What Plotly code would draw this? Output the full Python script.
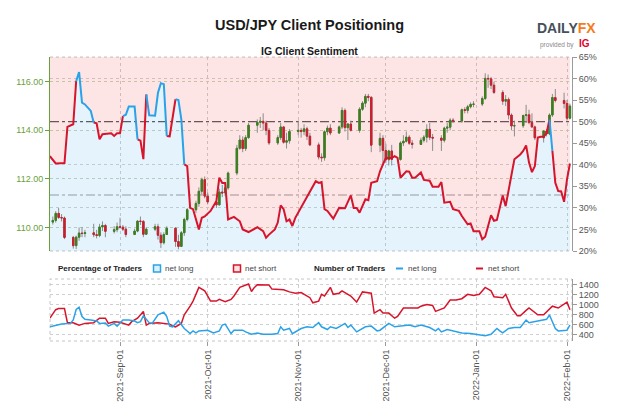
import plotly.graph_objects as go

# ---------------- data ----------------
CANDLE_DATES = [
    "2021-08-09", "2021-08-10", "2021-08-11", "2021-08-12", "2021-08-13", "2021-08-16", "2021-08-17", "2021-08-18",
    "2021-08-19", "2021-08-20", "2021-08-23", "2021-08-24", "2021-08-25", "2021-08-26", "2021-08-27", "2021-08-30",
    "2021-08-31",
    "2021-09-01", "2021-09-02", "2021-09-03", "2021-09-06", "2021-09-07", "2021-09-08", "2021-09-09", "2021-09-10",
    "2021-09-13", "2021-09-14", "2021-09-15", "2021-09-16", "2021-09-17", "2021-09-20", "2021-09-21", "2021-09-22",
    "2021-09-23", "2021-09-24", "2021-09-27", "2021-09-28", "2021-09-29", "2021-09-30",
    "2021-10-01", "2021-10-04", "2021-10-05", "2021-10-06", "2021-10-07", "2021-10-08", "2021-10-11", "2021-10-12",
    "2021-10-13", "2021-10-14", "2021-10-15", "2021-10-18", "2021-10-19", "2021-10-20", "2021-10-21", "2021-10-22",
    "2021-10-25", "2021-10-26", "2021-10-27", "2021-10-28", "2021-10-29",
    "2021-11-01", "2021-11-02", "2021-11-03", "2021-11-04", "2021-11-05", "2021-11-08", "2021-11-09", "2021-11-10",
    "2021-11-11", "2021-11-12", "2021-11-15", "2021-11-16", "2021-11-17", "2021-11-18", "2021-11-19", "2021-11-22",
    "2021-11-23", "2021-11-24", "2021-11-25", "2021-11-26", "2021-11-29", "2021-11-30",
    "2021-12-01", "2021-12-02", "2021-12-03", "2021-12-06", "2021-12-07", "2021-12-08", "2021-12-09", "2021-12-10",
    "2021-12-13", "2021-12-14", "2021-12-15", "2021-12-16", "2021-12-17", "2021-12-20", "2021-12-21", "2021-12-22",
    "2021-12-23", "2021-12-24", "2021-12-27", "2021-12-28", "2021-12-29", "2021-12-30", "2021-12-31",
    "2022-01-03", "2022-01-04", "2022-01-05", "2022-01-06", "2022-01-07", "2022-01-10", "2022-01-11", "2022-01-12",
    "2022-01-13", "2022-01-14", "2022-01-17", "2022-01-18", "2022-01-19", "2022-01-20", "2022-01-21", "2022-01-24",
    "2022-01-25", "2022-01-26", "2022-01-27", "2022-01-28", "2022-01-31",
    "2022-02-01", "2022-02-02",
]
OPEN = [
    110.22, 110.29, 110.58, 110.41, 110.39, 109.59, 109.25, 109.60, 109.77, 109.75, 109.78, 109.70, 109.67, 110.02, 110.08, 109.84, 109.91,
    110.03, 110.01, 109.93, 109.71, 109.85, 110.26, 110.25, 109.72, 109.93, 110.03, 109.68, 109.37, 109.71, 109.97, 109.42, 109.22, 109.78, 110.33, 110.73, 110.99, 111.49, 111.97,
    111.29, 111.05, 110.93, 111.46, 111.42, 111.63, 112.24, 113.26, 113.60, 113.25, 113.70, 114.21, 114.33, 114.37, 114.30, 114.00, 113.48, 113.70, 114.14, 113.51, 113.57,
    113.95, 114.00, 113.95, 114.06, 113.76, 113.40, 112.90, 112.87, 113.94, 114.09, 113.89, 114.14, 114.82, 114.11, 114.26, 114.00, 114.87, 115.12, 115.40, 115.36, 113.39, 113.67,
    113.17, 112.79, 113.15, 112.80, 113.48, 113.55, 113.72, 113.47, 113.42, 113.59, 113.72, 114.04, 113.71, 113.68, 113.59, 114.09, 114.13, 114.42, 114.38, 114.85, 114.82, 114.97, 115.07,
    115.08, 115.31, 116.14, 116.12, 115.86, 115.56, 115.20, 115.27, 114.63, 114.18, 114.19, 114.61, 114.64, 114.32, 114.14, 113.69, 113.97, 113.86, 114.63, 115.35, 115.23,
    115.11, 114.50,
]
HIGH = [
    110.45, 110.67, 110.80, 110.55, 110.45, 109.65, 109.66, 110.00, 110.02, 109.90, 110.15, 109.90, 110.15, 110.25, 110.15, 110.05, 110.20,
    110.40, 110.10, 110.05, 109.95, 110.30, 110.45, 110.30, 110.00, 110.15, 110.15, 109.80, 109.80, 110.05, 110.00, 109.70, 109.85, 110.40, 110.80, 111.10, 111.65, 112.05, 112.10,
    111.45, 111.10, 111.60, 111.75, 111.80, 112.30, 113.40, 113.80, 113.75, 113.80, 114.30, 114.45, 114.55, 114.70, 114.40, 114.10, 113.80, 114.30, 114.15, 113.90, 114.05,
    114.40, 114.10, 114.25, 114.15, 113.90, 113.50, 113.05, 114.00, 114.20, 114.25, 114.20, 114.95, 114.90, 114.30, 114.40, 114.95, 115.20, 115.50, 115.50, 115.40, 113.90, 113.80,
    113.45, 113.20, 113.40, 113.55, 113.80, 113.95, 113.80, 113.60, 113.70, 113.80, 114.25, 114.30, 113.85, 113.80, 114.15, 114.30, 114.50, 114.50, 114.90, 114.95, 115.05, 115.15, 115.20,
    115.40, 116.35, 116.30, 116.20, 116.00, 115.65, 115.45, 115.35, 114.70, 114.40, 114.65, 115.05, 114.85, 114.70, 114.20, 114.00, 114.05, 114.70, 115.50, 115.70, 115.55,
    115.25, 115.10,
]
LOW = [
    110.12, 110.20, 110.35, 110.25, 109.52, 109.13, 109.11, 109.45, 109.60, 109.60, 109.60, 109.55, 109.60, 109.85, 109.60, 109.75, 109.80,
    109.95, 109.85, 109.60, 109.70, 109.80, 110.10, 109.60, 109.70, 109.85, 109.50, 109.15, 109.30, 109.70, 109.20, 109.10, 109.20, 109.65, 110.25, 110.60, 110.85, 111.35, 111.20,
    110.95, 110.80, 110.90, 111.25, 111.40, 111.55, 112.15, 113.20, 113.10, 113.15, 113.65, 113.90, 114.10, 114.00, 113.80, 113.40, 113.40, 113.60, 113.45, 113.25, 113.45,
    113.80, 113.70, 113.80, 113.60, 113.35, 112.80, 112.70, 112.75, 113.80, 113.80, 113.85, 114.05, 113.95, 113.60, 113.95, 113.90, 114.80, 114.95, 115.20, 113.10, 113.10, 112.55,
    112.65, 112.55, 112.55, 112.75, 113.35, 113.50, 113.40, 113.25, 113.40, 113.50, 113.50, 113.60, 113.15, 113.15, 113.50, 113.90, 114.00, 114.30, 114.30, 114.70, 114.70, 114.90, 114.95,
    115.00, 115.25, 115.75, 115.70, 115.50, 115.05, 115.00, 114.45, 114.00, 113.75, 114.10, 114.30, 114.25, 114.10, 113.60, 113.50, 113.75, 113.80, 114.55, 115.15, 114.90,
    114.40, 114.45,
]
CLOSE = [
    110.29, 110.58, 110.41, 110.39, 109.59, 109.25, 109.60, 109.77, 109.75, 109.78, 109.70, 109.67, 110.02, 110.08, 109.84, 109.91, 110.03,
    110.01, 109.93, 109.71, 109.85, 110.26, 110.25, 109.72, 109.93, 110.03, 109.68, 109.37, 109.71, 109.97, 109.42, 109.22, 109.78, 110.33, 110.73, 110.99, 111.49, 111.97, 111.29,
    111.05, 110.93, 111.46, 111.42, 111.63, 112.24, 113.26, 113.60, 113.25, 113.70, 114.21, 114.33, 114.37, 114.30, 114.00, 113.48, 113.70, 114.14, 113.51, 113.57, 113.95,
    114.00, 113.95, 114.06, 113.76, 113.40, 112.90, 112.87, 113.94, 114.09, 113.89, 114.14, 114.82, 114.11, 114.26, 114.00, 114.87, 115.12, 115.40, 115.36, 113.39, 113.67, 113.17,
    112.79, 113.15, 112.80, 113.48, 113.55, 113.72, 113.47, 113.42, 113.59, 113.72, 114.04, 113.71, 113.68, 113.59, 114.09, 114.13, 114.42, 114.38, 114.85, 114.82, 114.97, 115.07, 115.08,
    115.31, 116.14, 116.12, 115.86, 115.56, 115.20, 115.27, 114.63, 114.18, 114.19, 114.61, 114.64, 114.32, 114.14, 113.69, 113.97, 113.86, 114.63, 115.35, 115.23, 115.11,
    114.50, 115.00,
]

SENT_DATES = [
    "2021-08-08", "2021-08-10", "2021-08-13", "2021-08-14", "2021-08-16", "2021-08-17", "2021-08-18", "2021-08-19",
    "2021-08-20", "2021-08-22", "2021-08-23", "2021-08-24", "2021-08-25", "2021-08-26", "2021-08-29", "2021-08-30",
    "2021-08-31", "2021-09-01", "2021-09-02", "2021-09-03", "2021-09-04", "2021-09-06", "2021-09-07", "2021-09-08",
    "2021-09-09", "2021-09-10", "2021-09-11", "2021-09-13", "2021-09-14", "2021-09-15", "2021-09-16", "2021-09-17",
    "2021-09-18", "2021-09-20", "2021-09-21", "2021-09-22", "2021-09-23", "2021-09-24", "2021-09-25", "2021-09-26",
    "2021-09-28", "2021-09-29", "2021-09-30", "2021-10-02", "2021-10-04", "2021-10-05", "2021-10-06", "2021-10-07",
    "2021-10-08", "2021-10-10", "2021-10-12", "2021-10-13", "2021-10-15", "2021-10-17", "2021-10-18", "2021-10-20",
    "2021-10-21", "2021-10-22", "2021-10-24", "2021-10-25", "2021-10-26", "2021-10-27", "2021-10-28", "2021-10-29",
    "2021-10-30", "2021-10-31", "2021-11-01", "2021-11-03", "2021-11-04", "2021-11-06", "2021-11-07", "2021-11-08",
    "2021-11-09", "2021-11-10", "2021-11-11", "2021-11-13", "2021-11-15", "2021-11-17", "2021-11-19", "2021-11-20",
    "2021-11-21", "2021-11-22", "2021-11-24", "2021-11-25", "2021-11-26", "2021-11-28", "2021-11-29", "2021-11-30",
    "2021-12-01", "2021-12-03", "2021-12-04", "2021-12-05", "2021-12-06", "2021-12-08", "2021-12-09", "2021-12-10",
    "2021-12-11", "2021-12-13", "2021-12-14", "2021-12-16", "2021-12-17", "2021-12-18", "2021-12-19", "2021-12-20",
    "2021-12-21", "2021-12-23", "2021-12-24", "2021-12-26", "2021-12-27", "2021-12-29", "2021-12-30", "2021-12-31",
    "2022-01-02", "2022-01-03", "2022-01-04", "2022-01-06", "2022-01-07", "2022-01-08", "2022-01-10", "2022-01-11",
    "2022-01-12", "2022-01-14", "2022-01-16", "2022-01-17", "2022-01-18", "2022-01-19", "2022-01-20", "2022-01-21",
    "2022-01-22", "2022-01-23", "2022-01-24", "2022-01-25", "2022-01-26", "2022-01-27", "2022-01-28", "2022-01-29",
    "2022-01-30", "2022-01-31", "2022-02-01", "2022-02-02",
]
NET_LONG_PCT = [
    42.0, 40.3, 40.4, 48.8, 49.4, 59.4, 61.5, 54.4,
    54.0, 52.5, 49.8, 49.6, 45.9, 47.1, 47.3, 46.7,
    47.3, 47.3, 51.3, 51.6, 53.5, 53.5, 45.9, 45.6,
    41.3, 56.3, 51.5, 51.4, 56.7, 58.9, 58.7, 46.7,
    46.6, 55.2, 55.0, 50.5, 40.1, 39.7, 30.0, 29.7,
    25.0, 27.7, 28.0, 29.3, 31.6, 37.0, 35.8, 35.8,
    27.3, 27.9, 26.9, 25.0, 24.4, 25.2, 25.5, 24.6,
    23.1, 23.8, 25.0, 26.6, 30.6, 29.7, 26.9, 27.3,
    25.8, 27.7, 28.9, 31.2, 32.7, 35.1, 36.2, 35.8,
    36.0, 29.7, 29.3, 27.5, 30.0, 29.9, 32.9, 30.0,
    30.0, 28.9, 32.0, 31.8, 35.8, 36.2, 38.5, 40.1,
    41.6, 41.6, 42.0, 41.6, 37.0, 38.5, 38.4, 37.0,
    37.0, 38.2, 36.5, 36.3, 34.9, 34.9, 34.9, 36.0,
    31.2, 31.4, 29.7, 29.3, 28.1, 26.2, 26.4, 24.6,
    24.6, 22.7, 23.3, 28.3, 27.0, 27.2, 32.9, 30.4,
    34.3, 41.3, 42.4, 43.2, 44.5, 40.5, 38.3, 39.7,
    46.3, 46.5, 46.5, 47.3, 50.5, 43.2, 35.8, 33.9,
    33.8, 31.4, 36.6, 40.3,
]

SHORT_DATES = [
    "2021-08-08", "2021-08-10", "2021-08-11", "2021-08-13", "2021-08-14", "2021-08-16", "2021-08-18", "2021-08-20",
    "2021-08-23", "2021-08-25", "2021-08-27", "2021-08-28", "2021-08-30", "2021-09-01", "2021-09-04", "2021-09-05",
    "2021-09-07", "2021-09-09", "2021-09-10", "2021-09-11", "2021-09-14", "2021-09-18", "2021-09-19", "2021-09-20",
    "2021-09-22", "2021-09-23", "2021-09-25", "2021-09-26", "2021-09-28", "2021-09-30", "2021-10-02", "2021-10-04",
    "2021-10-05", "2021-10-07", "2021-10-09", "2021-10-10", "2021-10-12", "2021-10-14", "2021-10-15", "2021-10-16",
    "2021-10-17", "2021-10-18", "2021-10-22", "2021-10-23", "2021-10-27", "2021-10-29", "2021-10-31", "2021-11-02",
    "2021-11-05", "2021-11-06", "2021-11-08", "2021-11-09", "2021-11-10", "2021-11-12", "2021-11-13", "2021-11-15",
    "2021-11-16", "2021-11-19", "2021-11-21", "2021-11-23", "2021-11-25", "2021-11-26", "2021-11-27", "2021-11-29",
    "2021-11-30", "2021-12-02", "2021-12-04", "2021-12-05", "2021-12-07", "2021-12-09", "2021-12-12", "2021-12-13",
    "2021-12-15", "2021-12-17", "2021-12-18", "2021-12-21", "2021-12-23", "2021-12-25", "2021-12-27", "2021-12-29",
    "2021-12-31", "2022-01-02", "2022-01-04", "2022-01-06", "2022-01-07", "2022-01-10", "2022-01-11", "2022-01-12",
    "2022-01-13", "2022-01-15", "2022-01-16", "2022-01-18", "2022-01-19", "2022-01-22", "2022-01-24", "2022-01-27",
    "2022-01-29", "2022-02-01", "2022-02-02",
]
NET_SHORT_TRADERS = [
    726, 896, 918, 918, 636, 636, 588, 622,
    636, 726, 726, 622, 656, 643, 588, 656,
    726, 862, 588, 622, 636, 608, 567, 553,
    622, 794, 966, 1068, 1342, 1274, 1068, 1068,
    1102, 1055, 1102, 1170, 1342, 1390, 1410, 1260,
    1342, 1396, 1390, 1308, 1294, 1252, 1226, 1240,
    1136, 1034, 1068, 1204, 1170, 1342, 1204, 1226,
    1274, 1170, 1048, 1252, 1240, 1226, 828, 896,
    828, 828, 726, 760, 930, 930, 930, 966,
    1000, 980, 862, 930, 1088, 1088, 1116, 1204,
    1180, 1204, 1342, 1274, 1156, 1136, 1204, 1068,
    930, 774, 774, 882, 930, 794, 794, 966,
    930, 1048, 896,
]

LONG_DATES = [
    "2021-08-08", "2021-08-10", "2021-08-12", "2021-08-15", "2021-08-16", "2021-08-17", "2021-08-18", "2021-08-19",
    "2021-08-20", "2021-08-22", "2021-08-24", "2021-08-25", "2021-08-27", "2021-08-28", "2021-08-30", "2021-08-31",
    "2021-09-02", "2021-09-04", "2021-09-06", "2021-09-07", "2021-09-08", "2021-09-09", "2021-09-11", "2021-09-12",
    "2021-09-14", "2021-09-16", "2021-09-17", "2021-09-18", "2021-09-19", "2021-09-21", "2021-09-22", "2021-09-23",
    "2021-09-25", "2021-09-26", "2021-09-27", "2021-09-28", "2021-10-01", "2021-10-03", "2021-10-05", "2021-10-06",
    "2021-10-07", "2021-10-09", "2021-10-10", "2021-10-13", "2021-10-14", "2021-10-16", "2021-10-18", "2021-10-20",
    "2021-10-23", "2021-10-25", "2021-10-26", "2021-10-27", "2021-10-29", "2021-10-30", "2021-11-02", "2021-11-04",
    "2021-11-06", "2021-11-08", "2021-11-09", "2021-11-11", "2021-11-12", "2021-11-14", "2021-11-15", "2021-11-17",
    "2021-11-18", "2021-11-19", "2021-11-21", "2021-11-22", "2021-11-24", "2021-11-26", "2021-11-28", "2021-11-29",
    "2021-12-01", "2021-12-02", "2021-12-04", "2021-12-06", "2021-12-09", "2021-12-11", "2021-12-13", "2021-12-16",
    "2021-12-18", "2021-12-19", "2021-12-20", "2021-12-22", "2021-12-24", "2021-12-27", "2021-12-30", "2022-01-01",
    "2022-01-04", "2022-01-06", "2022-01-08", "2022-01-09", "2022-01-10", "2022-01-12", "2022-01-14", "2022-01-16",
    "2022-01-18", "2022-01-19", "2022-01-21", "2022-01-23", "2022-01-25", "2022-01-26", "2022-01-27", "2022-01-28",
    "2022-01-29", "2022-01-31", "2022-02-01", "2022-02-02",
]
NET_LONG_TRADERS = [
    554, 588, 608, 622, 690, 900, 944, 760,
    704, 690, 670, 622, 630, 568, 622, 568,
    690, 690, 670, 636, 656, 774, 636, 622,
    794, 848, 760, 568, 554, 676, 588, 520,
    418, 472, 432, 472, 486, 432, 472, 588,
    608, 418, 486, 486, 452, 404, 432, 404,
    404, 418, 554, 486, 520, 418, 520, 554,
    540, 636, 554, 500, 554, 520, 554, 622,
    540, 588, 452, 486, 554, 568, 472, 486,
    588, 622, 554, 568, 588, 554, 588, 540,
    472, 520, 452, 500, 472, 432, 418, 404,
    376, 404, 520, 472, 432, 520, 540, 540,
    690, 636, 656, 690, 704, 790, 656, 520,
    472, 486, 486, 590,
]

MONTH_TICKS = ["2021-09-01", "2021-10-01", "2021-11-01", "2021-12-01", "2022-01-01", "2022-02-01"]
PCT_TICKS = [20, 25, 30, 35, 40, 45, 50, 55, 60, 65]
PCT_GRID = [30, 40, 60]
PRICE_TICKS = [110, 112, 114, 116]
COUNT_TICKS = [400, 600, 800, 1000, 1200, 1400]
SENTIMENT_MID = 50
SENTIMENT_REF = 33

# ---------------- styling ----------------
FONT = "Liberation Sans, Arial, sans-serif"
BLUE = "#2aa2e8"
RED = "#d6142c"
GREEN_C = "#3d7f1f"
RED_C = "#c9202f"
WICK = "#8c8c8c"
AX_GREEN = "#6a9f3a"
AX_GRAY = "#9a9a9a"
TXT_GRAY = "#555555"

W, H = 624, 416
ML, MR, MT, MB = 50, 52, 57, 75
PW = W - ML - MR
PH = H - MT - MB


def pxp(x):
    return (x - ML) / PW


def pyp(y):
    return (H - MB - y) / PH


X_RANGE = ["2021-08-08 01:00", "2022-02-02 17:00"]

fig = go.Figure()

# blue area below the net-long line
fig.add_trace(go.Scatter(
    x=SENT_DATES, y=NET_LONG_PCT, mode="lines", line=dict(width=0, color="rgba(0,0,0,0)"),
    fill="tozeroy", fillcolor="rgba(20,150,235,0.11)", xaxis="x", yaxis="y", hoverinfo="skip"))

# pink area above the line (net short share on reversed axis)
NET_SHORT_PCT = [100 - v for v in NET_LONG_PCT]
fig.add_trace(go.Scatter(
    x=SENT_DATES, y=NET_SHORT_PCT, mode="lines", line=dict(width=0, color="rgba(0,0,0,0)"),
    fill="tozeroy", fillcolor="rgba(240,40,40,0.12)", xaxis="x", yaxis="y2", hoverinfo="skip"))

# candles: wicks then bodies
BODY_HIGH = [max(o, c) for o, c in zip(OPEN, CLOSE)]
BODY_LOW = [min(o, c) for o, c in zip(OPEN, CLOSE)]
fig.add_trace(go.Candlestick(
    x=CANDLE_DATES, open=OPEN, high=HIGH, low=LOW, close=CLOSE,
    increasing=dict(line=dict(color=WICK, width=1), fillcolor=WICK),
    decreasing=dict(line=dict(color=WICK, width=1), fillcolor=WICK),
    whiskerwidth=0, xaxis="x", yaxis="y3", hoverinfo="skip", showlegend=False))
fig.add_trace(go.Candlestick(
    x=CANDLE_DATES, open=OPEN, high=BODY_HIGH, low=BODY_LOW, close=CLOSE,
    increasing=dict(line=dict(color=GREEN_C, width=1), fillcolor=GREEN_C),
    decreasing=dict(line=dict(color=RED_C, width=1), fillcolor=RED_C),
    whiskerwidth=0, xaxis="x", yaxis="y3", hoverinfo="skip", showlegend=False))

# sentiment line, coloured by side of 50%
n = len(NET_LONG_PCT)
runs = []
start = 0
for i in range(1, n - 1):
    if (NET_LONG_PCT[i] >= SENTIMENT_MID) != (NET_LONG_PCT[start] >= SENTIMENT_MID):
        runs.append((start, i))
        start = i
runs.append((start, n - 1))
bx, by, rx, ry = [], [], [], []
for s, e in runs:
    xs = SENT_DATES[s:e + 1] + [None]
    ys = NET_LONG_PCT[s:e + 1] + [None]
    if NET_LONG_PCT[s] >= SENTIMENT_MID:
        bx += xs
        by += ys
    else:
        rx += xs
        ry += ys
fig.add_trace(go.Scatter(x=rx, y=ry, mode="lines", line=dict(color=RED, width=2),
                         xaxis="x", yaxis="y4", hoverinfo="skip", connectgaps=False))
fig.add_trace(go.Scatter(x=bx, y=by, mode="lines", line=dict(color=BLUE, width=2),
                         xaxis="x", yaxis="y4", hoverinfo="skip", connectgaps=False))

# number of traders
fig.add_trace(go.Scatter(x=SHORT_DATES, y=NET_SHORT_TRADERS, mode="lines",
                         line=dict(color=RED, width=1.5), xaxis="x2", yaxis="y5", hoverinfo="skip"))
fig.add_trace(go.Scatter(x=LONG_DATES, y=NET_LONG_TRADERS, mode="lines",
                         line=dict(color=BLUE, width=1.5), xaxis="x2", yaxis="y5", hoverinfo="skip"))

top_dom = [pyp(251), 1.0]
bot_dom = [0.0, pyp(279)]
tickfont = dict(family=FONT, size=9, color=TXT_GRAY)

fig.update_layout(
    width=W, height=H, autosize=False,
    margin=dict(l=ML, r=MR, t=MT, b=MB, pad=0),
    paper_bgcolor="white", plot_bgcolor="white",
    showlegend=False, hovermode=False,
    font=dict(family=FONT, color="#333"),
    xaxis=dict(domain=[0, 1], anchor="y", type="date", range=X_RANGE,
               tickvals=MONTH_TICKS, showticklabels=False, ticks="",
               showgrid=True, gridcolor="#cfcfcf", griddash="dot", gridwidth=1,
               showline=False, zeroline=False, rangeslider=dict(visible=False)),
    xaxis2=dict(domain=[0, 1], anchor="y5", type="date", range=X_RANGE,
                tickvals=MONTH_TICKS, tickformat="%Y-%b-%d", tickangle=-90,
                tickfont=tickfont, ticks="outside", ticklen=4, tickcolor=AX_GRAY,
                showgrid=True, gridcolor="#cfcfcf", griddash="dot", gridwidth=1,
                showline=False, zeroline=False, rangeslider=dict(visible=False)),
    yaxis=dict(domain=top_dom, anchor="x", side="right", range=[20, 65],
               tickvals=PCT_TICKS, ticktext=[f"{v}%" for v in PCT_TICKS],
               tickfont=tickfont, ticks="outside", ticklen=4, tickcolor=AX_GRAY,
               showgrid=False, showline=True, linecolor=AX_GRAY, zeroline=False),
    yaxis2=dict(overlaying="y", anchor="x", range=[80, 35], visible=False),
    yaxis3=dict(overlaying="y", anchor="x", side="left", range=[109.03, 117.02],
                tickvals=PRICE_TICKS, tickformat=".2f",
                tickfont=dict(family=FONT, size=9, color=AX_GREEN),
                ticks="outside", ticklen=4, tickcolor=AX_GREEN,
                showgrid=True, gridcolor="#c9d6b6", griddash="dot", gridwidth=1,
                showline=True, linecolor=AX_GREEN, zeroline=False),
    yaxis4=dict(overlaying="y", anchor="x", side="right", range=[20, 65],
                tickvals=PCT_GRID, showticklabels=False, ticks="",
                showgrid=True, gridcolor="#d2d2d2", griddash="dot", gridwidth=1,
                showline=False, zeroline=False),
    yaxis5=dict(domain=bot_dom, anchor="x2", side="right", range=[270, 1510],
                tickvals=COUNT_TICKS, tickfont=tickfont,
                ticks="outside", ticklen=4, tickcolor=AX_GRAY,
                showgrid=True, gridcolor="#cfcfcf", griddash="dot", gridwidth=1,
                showline=True, linecolor=AX_GRAY, zeroline=False),
)

# frame edges in paper coordinates
TOP_Y0, TOP_Y1 = top_dom
BOT_Y0, BOT_Y1 = bot_dom
shapes = [
    dict(type="line", xref="paper", yref="paper", x0=0, x1=1, y0=TOP_Y1, y1=TOP_Y1,
         line=dict(color="#c4c4c4", width=1, dash="dot"), layer="below"),
    dict(type="line", xref="paper", yref="paper", x0=0, x1=1, y0=TOP_Y0, y1=TOP_Y0,
         line=dict(color="#c4c4c4", width=1, dash="dot"), layer="below"),
    dict(type="rect", xref="paper", yref="paper", x0=0, x1=1, y0=BOT_Y0, y1=BOT_Y1,
         line=dict(color="#c4c4c4", width=1, dash="dot"), layer="below"),
    # reference dash-dot lines
    dict(type="line", xref="paper", yref="y", x0=0, x1=1, y0=SENTIMENT_MID, y1=SENTIMENT_MID,
         line=dict(color="#5a5a5a", width=1.3, dash="dashdot"), layer="below"),
    dict(type="line", xref="paper", yref="y", x0=0, x1=1, y0=SENTIMENT_REF, y1=SENTIMENT_REF,
         line=dict(color="#a0a0a0", width=1.1, dash="dashdot"), layer="below"),
    # legend boxes / swatches
    dict(type="rect", xref="paper", yref="paper", x0=pxp(153.5), x1=pxp(160.5), y0=pyp(272), y1=pyp(265),
         fillcolor="#dcf0fc", line=dict(color=BLUE, width=1.5), layer="above"),
    dict(type="rect", xref="paper", yref="paper", x0=pxp(233.5), x1=pxp(240.5), y0=pyp(272), y1=pyp(265),
         fillcolor="#fde2e2", line=dict(color=RED, width=1.5), layer="above"),
    dict(type="line", xref="paper", yref="paper", x0=pxp(396), x1=pxp(403), y0=pyp(268.5), y1=pyp(268.5),
         line=dict(color=BLUE, width=2), layer="above"),
    dict(type="line", xref="paper", yref="paper", x0=pxp(476), x1=pxp(483), y0=pyp(268.5), y1=pyp(268.5),
         line=dict(color=RED, width=2), layer="above"),
]
fig.update_layout(shapes=shapes)


def ann(text, x, y, size, color="#222", xanchor="left", bold=False):
    t = f"<b>{text}</b>" if bold else text
    return dict(text=t, x=pxp(x), y=pyp(y), xref="paper", yref="paper", showarrow=False,
                xanchor=xanchor, yanchor="middle", font=dict(family=FONT, size=size, color=color))


annotations = [
    ann("USD/JPY Client Positioning", 309, 25, 14.5, "#1a1a1a", "center", True),
    ann("IG Client Sentiment", 309, 51, 10.5, "#1a1a1a", "center", True),
    ann("<span style='color:#46505c'>DAILY</span><span style='color:#f47b20'>FX</span>", 566, 28, 14,
        "#46505c", "center", True),
    ann("provided by", 576, 44.5, 6.5, "#8a8a8a", "right"),
    ann("IG", 577, 44, 10, "#e4002b", "left", True),
    ann("Percentage of Traders", 56, 268.5, 8, "#222", "left", True),
    ann("net long", 163, 268.5, 8, "#444", "left"),
    ann("net short", 243, 268.5, 8, "#444", "left"),
    ann("Number of Traders", 312, 268.5, 8, "#222", "left", True),
    ann("net long", 406, 268.5, 8, "#444", "left"),
    ann("net short", 486, 268.5, 8, "#444", "left"),
]
fig.update_layout(annotations=annotations)

fig.write_html("out.html")
